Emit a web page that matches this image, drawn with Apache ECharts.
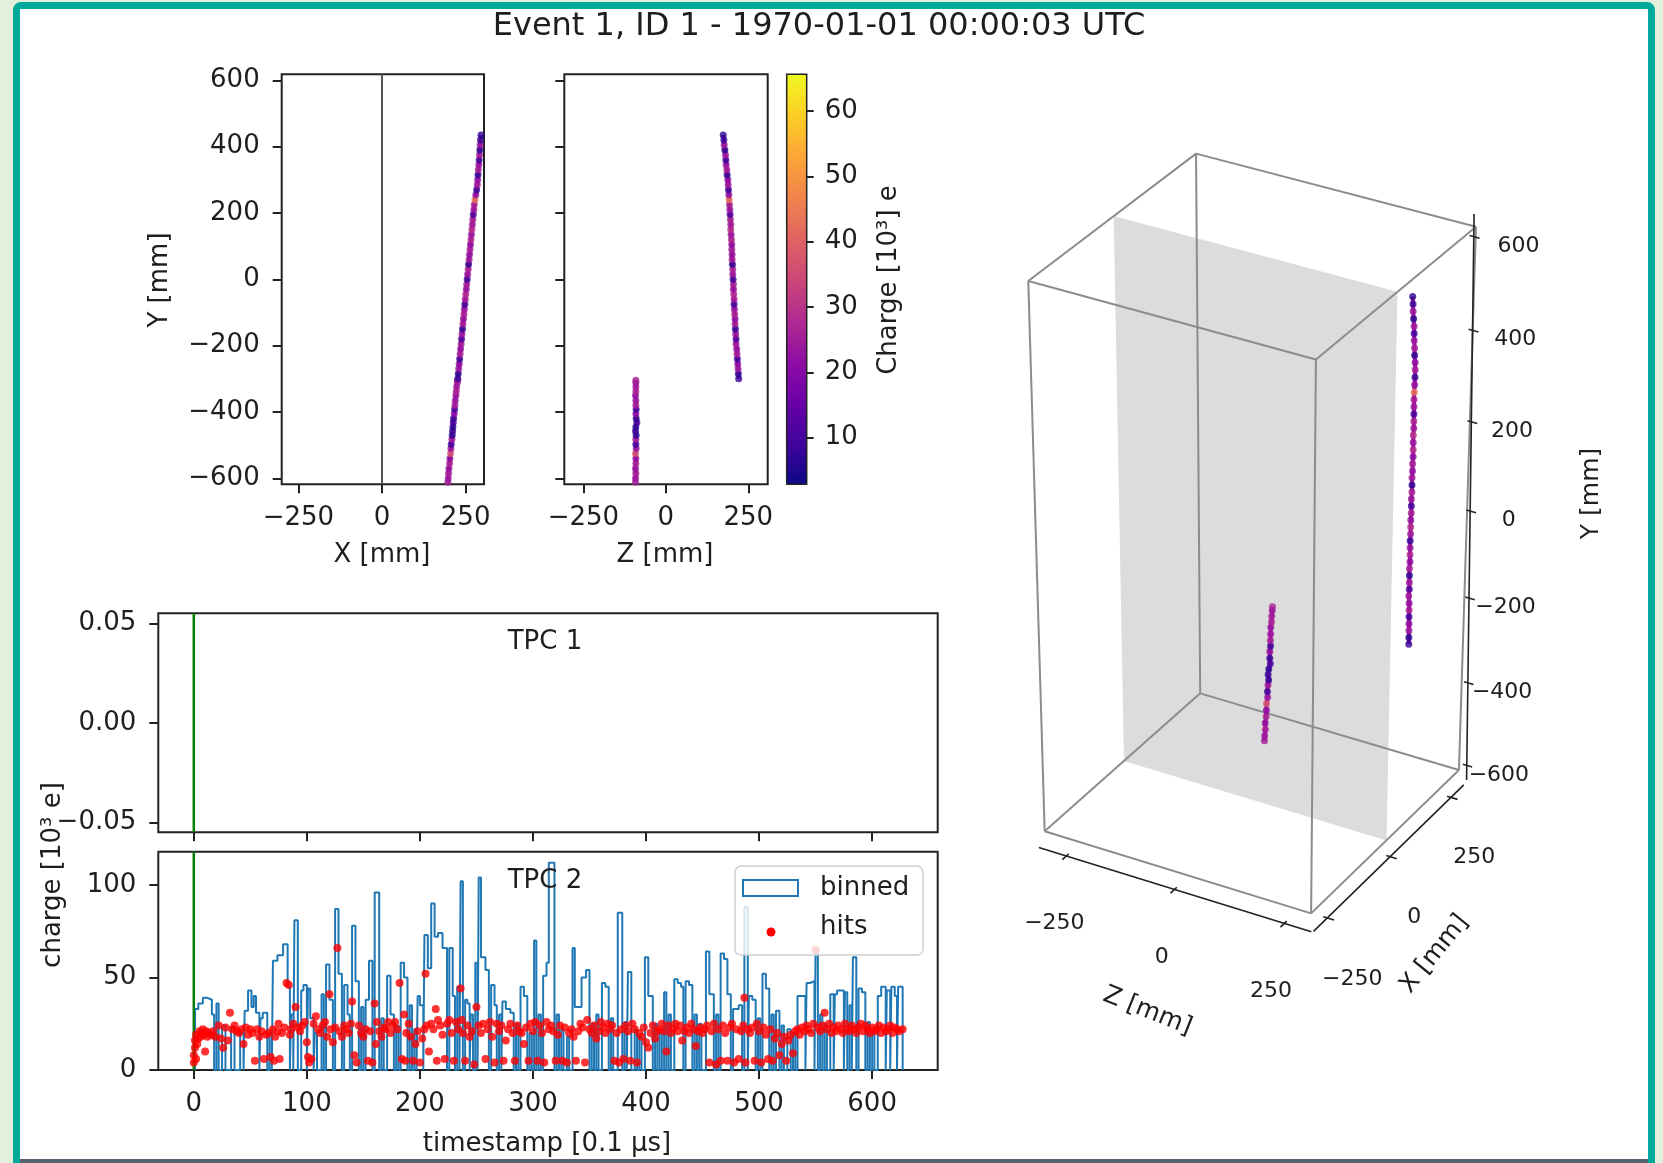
<!DOCTYPE html>
<html><head><meta charset="utf-8">
<script src="https://cdn.jsdelivr.net/npm/echarts@6.0.0/dist/echarts.min.js"></script>
<style>
html,body{margin:0;padding:0;background:#e3f0dc;width:1663px;height:1163px;overflow:hidden;}
#frame{position:absolute;left:13px;top:2px;width:1628px;height:1175px;border:7px solid #00a99a;border-radius:8px;background:#fff;}
#bottomline{position:absolute;left:20px;top:1159px;width:1628px;height:4px;background:#56636f;}
#chart{position:absolute;left:0;top:0;width:1663px;height:1163px;}
</style></head><body>
<div id="frame"></div><div id="bottomline"></div><div id="chart"></div>
<script>
// ---------------- data ----------------
const TITLE = 'Event 1, ID 1 - 1970-01-01 00:00:03 UTC';
const xyXTicks = [-250, 0, 250];
const yTicks = [-600, -400, -200, 0, 200, 400, 600];
const cbTicks = [10, 20, 30, 40, 50, 60];
const tpc1YTicks = [-0.05, 0, 0.05];
const tpc2YTicks = [0, 50, 100];
const timeTicks = [0, 100, 200, 300, 400, 500, 600];
const tick3dXZ = [-250, 0, 250];
const tick3dY = [-600, -400, -200, 0, 200, 400, 600];
const box3dX = [-298, 298];
const box3dY = [-617, 617];
const box3dZ = [-305, 305];
const cathodeX = 0;
const chargeRange = [2.87, 65.6];

// hits of the track: [X mm, Y mm, Z mm, charge 10^3 e]
const trackHits = [
 [197,-612,-92,25],[198,-600,-92,24],[199,-585,-91,26],[200,-570,-92,23],[202,-555,-91,27],[203,-540,-91,22],
 [205,-525,-92,38],[206,-510,-90,24],[207,-497,-91,9],[209,-482,-91,25],[210,-470,-90,7],[211,-458,-92,8],
 [212,-445,-91,6],[213,-432,-88,10],[214,-420,-90,7],[216,-405,-91,22],[217,-392,-90,9],[218,-380,-91,26],
 [219,-365,-91,24],[221,-350,-92,23],[222,-338,-91,27],[223,-325,-91,25],[225,-312,-91,24],[226,-304,-91,26],
 [226.6,-300,221,8],[228,-285,220,6],[229.4,-270,219,24],[230.8,-255,218,22],[232.2,-240,217,9],[233.6,-225,216,26],
 [235,-210,215,23],[236.5,-195,213,25],[237.9,-180,213,11],[239.3,-165,212,24],[240.7,-150,211,7],[242,-135,210,26],
 [243.5,-120,210,22],[245,-105,209,27],[246.3,-90,208,24],[247.7,-75,207,8],[249,-60,207,25],[250.5,-45,206,29],
 [252,-30,205,23],[253.3,-15,205,26],[254.8,0,204,9],[256,15,203,24],[257.6,30,203,27],[259,45,202,7],
 [260.4,60,201,25],[261.8,75,201,23],[263.2,90,200,26],[264.6,105,200,22],[266,120,199,28],[267.4,135,198,24],
 [268.8,150,197,30],[270.2,165,197,25],[271.6,180,196,27],[273,195,195,10],[274.5,210,194,24],[275.8,225,193,26],
 [278,240,192,44],[280.5,255,191,23],[283,270,190,8],[285,285,189,25],[286,300,188,22],[287,315,186,7],
 [288,330,185,26],[289.5,345,183,24],[290.5,360,182,9],[291.5,375,181,25],[292.5,390,179,6],[293.5,405,177,24],
 [294.5,420,176,8],[296,435,174,7]
];
const trackSegments = [[0, 23], [24, 73]];  // index ranges of the two track pieces

// binned charge histogram columns: [start, end, charge 10^3 e]
const binnedSteps = [
 [1,4,33],[4,8,36],[8,12,39],[12,16,38],[16,18,30],[20,22,36],[25,28,24],[33,36,23],[41,44,20],
 [45,48,32],[48,51,43],[51,53,34],[53,55,40],[55,58,31],[59,61,28],[61,65,31],[67,69,20],
 [70,74,59],[74,79,62],[79,83,68],[83,85,45],[86,88,30],[89,92,81],[95,97,43],[97,100,46],
 [101,103,44],[103,106,28],[107,109,20],[113,115,41],[117,120,57],[120,123,38],[125,128,87],[128,131,52],
 [133,136,46],[136,138,30],[140,143,78],[143,146,48],[148,150,34],[152,155,38],[155,158,59],[160,164,96],
 [166,168,28],[171,174,51],[174,177,30],[179,181,24],[183,186,58],[186,189,50],[191,193,35],[195,197,22],
 [198,200,40],[200,203,35],[204,207,73],[207,210,55],[210,213,90],[213,216,72],[216,220,74],[220,224,66],
 [226,229,66],[229,231,40],[233,235,45],[236,238,102],[240,242,38],[242,244,36],[245,247,30],[249,251,58],
 [252,254,104],[254,258,61],[258,261,54],[263,266,46],[266,268,35],[270,272,30],[273,276,37],[276,280,33],
 [280,283,31],[285,287,25],[289,292,45],[292,295,40],[297,299,20],[301,303,70],[305,307,30],[309,312,51],
 [312,314,58],[314,319,112],[321,323,30],[325,327,22],[330,332,18],[335,337,66],[337,343,34],[343,347,50],
 [347,350,54],[352,354,25],[356,358,30],[361,364,47],[364,367,45],[369,371,28],[375,379,85],[381,383,26],
 [384,387,53],[390,392,22],[394,396,18],[399,402,61],[402,406,40],[408,410,25],[412,414,20],[416,418,42],
 [420,422,30],[425,428,49],[428,431,47],[431,433,45],[435,438,48],[438,441,46],[443,445,30],[447,449,25],
 [453,456,64],[456,460,41],[462,464,30],[466,469,63],[469,472,60],[472,475,41],[477,479,33],[479,482,33],
 [482,485,35],[487,490,88],[491,494,40],[494,497,38],[499,501,28],[503,506,52],[506,509,44],[511,513,30],
 [515,518,32],[520,522,24],[525,528,22],[530,532,20],[534,537,40],[537,541,40],[542,545,47],[545,549,48],
 [550,552,65],[554,556,30],[558,560,25],[563,566,41],[567,569,41],[569,575,43],[576,578,42],[580,582,35],
 [583,586,61],[588,591,44],[591,594,42],[596,598,26],[600,602,20],[605,608,40],[608,612,45],[613,616,43],
 [617,620,45],[620,622,40],[623,627,45]
];

// hits: [timestamp 0.1us, charge 10^3 e]
const hitPoints = [
 [0,4],[0,8],[1,12],[1,16],[2,6],[2,19],[3,14],[4,17],[5,21],[6,18],[7,20],[8,22],[9,19],[10,10],[11,21],[12,18],[13,20],[15,19],[17,21],[19,18],
 [22,24],[24,17],[26,12],[28,23],[30,16],[32,31],[34,22],[36,24],[38,21],[40,20],[42,22],[44,14],[46,23],[48,19],[50,22],
 [52,20],[54,5],[56,22],[58,18],[60,21],[62,6],[64,19],[66,20],[68,7],[70,22],[71,5],[72,18],[74,21],[75,25],[76,6],[78,20],[80,23],[82,47],[84,46],
 [85,19],[86,22],[88,25],[90,34],[92,23],[94,21],[96,24],[98,26],[100,15],[101,7],[102,4],[104,6],[106,25],[108,29],[110,22],
 [112,20],[114,24],[116,26],[118,18],[120,41],[121,22],[123,15],[125,23],[127,66],[129,21],[131,18],[133,24],[135,22],[137,20],[139,25],[140,37],
 [142,8],[144,4],[146,24],[148,20],[150,18],[152,22],[154,5],[156,21],[158,4],[160,36],[161,14],[162,26],[164,21],[166,18],[168,23],[170,22],
 [172,26],[174,20],[176,24],[178,26],[180,22],[182,47],[184,6],[186,30],[187,5],[188,20],[190,25],[192,18],[194,5],[196,14],[198,21],[200,4],[202,17],[204,22],[205,52],[206,24],[208,10],[210,25],
 [212,22],[214,33],[215,5],[216,27],[218,24],[220,19],[222,6],[224,25],[226,27],[228,20],[230,5],[232,26],[234,22],[236,44],[237,27],[238,20],[240,5],[242,24],[244,18],[246,21],[248,3],
 [250,34],[252,24],[254,20],[256,25],[258,6],[260,22],[262,26],[264,18],[266,4],[268,25],[270,21],[272,24],[274,5],[276,16],[278,22],[280,25],[282,20],[284,5],[286,24],[288,21],
 [290,20],[292,14],[294,23],[296,5],[298,25],[300,21],[302,26],[304,5],[306,24],[308,20],[310,4],[312,26],[314,22],[316,24],[318,21],[320,5],[322,19],[324,24],[326,5],[328,23],[330,4],
 [332,20],[334,22],[336,18],[338,5],[340,21],[342,25],[344,23],[346,4],[348,27],[350,22],[352,20],[354,24],[356,17],[358,21],[360,26],[362,23],[364,20],[366,25],[368,22],[370,24],
 [372,5],[374,20],[376,4],[378,22],[380,6],[382,24],[384,21],[386,5],[388,25],[390,22],[392,4],[394,20],[396,18],[398,23],[400,15],[402,12],[404,20],[406,24],[408,17],[410,21],
 [412,22],[414,25],[416,21],[418,10],[420,24],[422,20],[424,22],[426,25],[428,21],[430,24],[432,16],[434,21],[436,23],[438,20],[440,25],[442,22],[444,13],[446,21],[448,23],[450,20],
 [452,22],[454,24],[456,4],[458,21],[460,25],[462,3],[464,22],[466,5],[468,24],[470,20],[472,5],[474,23],[476,25],[478,4],[480,22],[482,6],[484,21],[486,24],[487,39],[488,4],[490,22],
 [492,20],[494,23],[496,5],[498,25],[500,21],[502,4],[504,23],[506,19],[508,6],[510,22],[512,5],[514,17],[516,20],[518,8],[520,14],[522,18],[524,5],[526,16],[528,19],[530,9],
 [532,21],[534,22],[536,19],[538,23],[540,21],[542,24],[544,22],[546,20],[548,25],[550,65],[552,23],[554,21],[556,24],[558,31],[560,22],[562,25],[564,20],[566,23],[568,21],[570,24],[572,22],[574,20],[576,25],[578,22],[580,21],
 [582,24],[584,22],[586,20],[588,23],[590,25],[592,21],[594,24],[596,22],[598,20],[600,23],[602,21],[604,22],[606,24],[608,20],[610,23],[612,21],[614,22],[616,24],[618,20],[620,23],[622,22],[624,21],[627,22]
];

// ---------------- style / layout ----------------
const FONT = 'DejaVu Sans';
const TXT = '#1e1e1e';
const PLASMA = ['#0d0887','#41049d','#6a00a8','#8f0da4','#b12a90','#cc4778','#e16462','#f2844b','#fca636','#fcce25','#f0f921'];
const TRACK_CORE = '#9a179b';
const MINUS = v => (v < 0 ? '\u2212' + Math.abs(v) : String(v));

// 3D view (perspective-like projection onto the page)
const VIEW = {cx: 1254.2, cy: 537.6, ex: [78.9, -67.7], ey: [0.16, -273.4], ez: [136.6, 38.8], kx: -0.0192, ky: 0.0388, kz: 0.0088};
const hx = box3dX[1], hy = box3dY[1], hz = box3dZ[1];
function projN(b, c, a) {
  const s = 1 + VIEW.kz * a + VIEW.kx * b + VIEW.ky * c;
  return [VIEW.cx + s * (VIEW.ex[0] * b + VIEW.ey[0] * c + VIEW.ez[0] * a),
          VIEW.cy + s * (VIEW.ex[1] * b + VIEW.ey[1] * c + VIEW.ez[1] * a)];
}
function proj(X, Y, Z) { return projN(X / hx, Y / hy, Z / hz); }

// box edges
const edges = [];
[-1, 1].forEach(p => [-1, 1].forEach(q => {
  edges.push([projN(-1, p, q), projN(1, p, q)]);
  edges.push([projN(p, -1, q), projN(p, 1, q)]);
  edges.push([projN(p, q, -1), projN(p, q, 1)]);
}));
const cb = cathodeX / hx;
const planePts = [projN(cb, 1, -1), projN(cb, 1, 1), projN(cb, -1, 1), projN(cb, -1, -1)];

// 3d axes lines and ticks
const yAxTop = {b: 0.97, a: 1.0, c: 1.05}, yAxBot = {b: 1.0, a: 1.06, c: -1.03};
const axes3d = [
  [projN(-1.03, -1.06, -1.03), projN(-1.03, -1.06, 1.02)],
  [projN(-1.02, -1.06, 1.03), projN(1.02, -1.06, 1.03)],
  [projN(yAxBot.b, yAxBot.c, yAxBot.a), projN(yAxTop.b, yAxTop.c, yAxTop.a)]
];
tick3dXZ.forEach(v => {
  axes3d.push([projN(-1.0, -1.06, v / hz), projN(-1.08, -1.06, v / hz)]);
  axes3d.push([projN(v / hx, -1.06, 1.0), projN(v / hx, -1.06, 1.08)]);
});
tick3dY.forEach(v => {
  const c = v / hy, t = (c - yAxBot.c) / (yAxTop.c - yAxBot.c);
  const b = yAxBot.b + t * (yAxTop.b - yAxBot.b), a = yAxBot.a + t * (yAxTop.a - yAxBot.a);
  axes3d.push([projN(b, c, a - 0.03), projN(b, c, a + 0.04)]);
});

// 3d labels
const labels3d = [];
tick3dXZ.forEach(v => labels3d.push({p: projN(-1.2, -1.28, v / hz), text: MINUS(v), size: 22, rot: 0}));
tick3dXZ.forEach(v => labels3d.push({p: projN(v / hx, -1.27, 1.22), text: MINUS(v), size: 22, rot: 0}));
tick3dY.forEach(v => labels3d.push({p: projN(1.0, v / hy, 1.3), text: MINUS(v), size: 22, rot: 0}));
labels3d.push({p: projN(-1.39, -1.44, 0), text: 'Z [mm]', size: 25, rot: -21.8 * Math.PI / 180});
labels3d.push({p: projN(0, -1.394, 1.38), text: 'X [mm]', size: 25, rot: 51 * Math.PI / 180});
labels3d.push({p: projN(1.0, 0.18, 1.88), text: 'Y [mm]', size: 25, rot: Math.PI / 2});

// histogram step outline
function stepData(cols) {
  const pts = []; let last = null;
  cols.forEach(c => {
    if (last === null) pts.push([c[0], 0]);
    else if (c[0] > last) pts.push([last, 0]);
    pts.push([c[0], c[2]]);
    last = c[1];
  });
  pts.push([last, 0]);
  return pts;
}

// axes helpers
function mkAxis(gridIndex, min, max, ticks, o) {
  o = o || {};
  return {
    type: 'value', gridIndex, min, max, position: o.position,
    axisLine: {show: false, onZero: false},
    axisTick: {show: true, inside: false, length: o.tickLen || 9, lineStyle: {color: '#222', width: 2}, customValues: ticks},
    axisLabel: o.labels === false ? {show: false} :
      {show: true, customValues: ticks, formatter: o.fmt || MINUS, fontFamily: FONT, fontSize: 26, color: TXT, margin: o.margin || 20},
    splitLine: {show: false}
  };
}
const gridBox = {show: true, borderColor: '#222', borderWidth: 2, backgroundColor: 'transparent'};

function gtext(x, y, text, size, rot, align) {
  return {type: 'text', x, y, rotation: rot || 0, z: 100,
    style: {text, fontFamily: FONT, fontSize: size, fill: TXT, align: align || 'center', verticalAlign: 'middle'}};
}
function coreLine(xi, yi, mapFn) {
  return trackSegments.map(sg => ({
    type: 'line', xAxisIndex: xi, yAxisIndex: yi, showSymbol: false, silent: true, z: 4,
    lineStyle: {color: TRACK_CORE, width: 4}, data: trackHits.slice(sg[0], sg[1] + 1).map(mapFn)
  }));
}

const series = [
  {type: 'scatter', xAxisIndex: 0, yAxisIndex: 0, symbolSize: 7, z: 5, data: trackHits.map(h => [h[0], h[1], h[3]])},
  {type: 'scatter', xAxisIndex: 1, yAxisIndex: 1, symbolSize: 7, z: 5, data: trackHits.map(h => [h[2], h[1], h[3]])},
  {type: 'scatter', xAxisIndex: 5, yAxisIndex: 5, symbolSize: 7, z: 5, data: trackHits.map(h => proj(h[0], h[1], h[2]).concat([h[3]]))},
  {type: 'line', xAxisIndex: 0, yAxisIndex: 0, showSymbol: false, silent: true, z: 3,
   lineStyle: {color: '#555', width: 2}, data: [[cathodeX, -618], [cathodeX, 618]]},
  {type: 'line', xAxisIndex: 3, yAxisIndex: 3, showSymbol: false, silent: true, z: 3,
   lineStyle: {color: '#0a7d0a', width: 2.5}, data: [[0, -0.055], [0, 0.055]]},
  {type: 'line', name: 'binned', xAxisIndex: 4, yAxisIndex: 4, step: 'end', showSymbol: false, z: 2,
   lineStyle: {color: '#1f77b4', width: 2}, data: stepData(binnedSteps)},
  {type: 'line', xAxisIndex: 4, yAxisIndex: 4, showSymbol: false, silent: true, z: 3,
   lineStyle: {color: '#0a7d0a', width: 2.5}, data: [[0, 0], [0, 118]]},
  {type: 'scatter', name: 'hits', xAxisIndex: 4, yAxisIndex: 4, symbolSize: 8, z: 4,
   itemStyle: {color: '#ff0000'}, data: hitPoints},
  {type: 'custom', xAxisIndex: 5, yAxisIndex: 5, z: 1, silent: true,
   data: [planePts.flat()],
   renderItem: (params, api) => {
     const pts = [];
     for (let k = 0; k < 4; k++) pts.push(api.coord([api.value(2 * k), api.value(2 * k + 1)]));
     return {type: 'polygon', shape: {points: pts}, style: {fill: '#dcdcdc'}};
   }},
  {type: 'lines', coordinateSystem: 'cartesian2d', xAxisIndex: 5, yAxisIndex: 5, polyline: false, silent: true, z: 2,
   lineStyle: {color: '#8c8c8c', width: 2, opacity: 1}, data: edges.map(e => ({coords: e}))},
  {type: 'lines', coordinateSystem: 'cartesian2d', xAxisIndex: 5, yAxisIndex: 5, polyline: false, silent: true, z: 3,
   lineStyle: {color: '#222', width: 1.6, opacity: 1}, data: axes3d.map(e => ({coords: e}))},
  {type: 'custom', xAxisIndex: 5, yAxisIndex: 5, z: 6, silent: true,
   data: labels3d.map(l => l.p),
   renderItem: (params, api) => {
     const L = labels3d[params.dataIndex];
     const p = api.coord([api.value(0), api.value(1)]);
     return {type: 'text', x: p[0], y: p[1], rotation: L.rot,
       style: {text: L.text, fontFamily: FONT, fontSize: L.size, fill: TXT, align: 'center', verticalAlign: 'middle'}};
   }}
].concat(
  coreLine(0, 0, h => [h[0], h[1]]),
  coreLine(1, 1, h => [h[2], h[1]]),
  coreLine(5, 5, h => proj(h[0], h[1], h[2]))
);

const option = {
  animation: false,
  backgroundColor: 'transparent',
  grid: [
    Object.assign({left: 281.7, top: 74.3, width: 202.3, height: 410}, gridBox),
    Object.assign({left: 564.3, top: 74.3, width: 203.4, height: 410}, gridBox),
    {left: 786.7, top: 74.3, width: 20, height: 410, show: true, borderColor: '#222', borderWidth: 1.5, backgroundColor: 'transparent', z: 10},
    Object.assign({left: 158.3, top: 613.3, width: 779.4, height: 219}, gridBox),
    Object.assign({left: 158.3, top: 851.7, width: 779.4, height: 218.3}, gridBox),
    {left: 0, top: 0, width: 1663, height: 1163}
  ],
  xAxis: [
    mkAxis(0, -300, 305, xyXTicks, {margin: 21}),
    mkAxis(1, -308, 309, xyXTicks, {margin: 21}),
    {type: 'value', gridIndex: 2, min: 0, max: 1, show: false},
    mkAxis(3, -31.4, 658, timeTicks, {labels: false}),
    mkAxis(4, -31.4, 658, timeTicks, {margin: 21}),
    {type: 'value', gridIndex: 5, min: 0, max: 1663, show: false}
  ],
  yAxis: [
    mkAxis(0, -618, 618, yTicks, {margin: 22}),
    mkAxis(1, -618, 618, yTicks, {labels: false}),
    mkAxis(2, chargeRange[0], chargeRange[1], cbTicks, {position: 'right', margin: 18, tickLen: 7}),
    mkAxis(3, -0.055, 0.055, tpc1YTicks, {margin: 22, fmt: v => (v < 0 ? '\u2212' : '') + Math.abs(v).toFixed(2)}),
    mkAxis(4, 0, 118, tpc2YTicks, {margin: 22}),
    {type: 'value', gridIndex: 5, min: 0, max: 1163, inverse: true, show: false}
  ],
  visualMap: {
    type: 'continuous', min: chargeRange[0], max: chargeRange[1], dimension: 2, seriesIndex: [0, 1, 2],
    inRange: {color: PLASMA}, orient: 'vertical', left: 786.7, top: 74.3, itemWidth: 20, itemHeight: 410,
    calculable: false, padding: 0, hoverLink: false, showLabel: false, z: 4
  },
  series,
  graphic: [
    gtext(819, 27, TITLE, 32),
    gtext(160, 280, 'Y [mm]', 26, Math.PI / 2),
    gtext(382, 555, 'X [mm]', 26),
    gtext(665, 555, 'Z [mm]', 26),
    gtext(889, 280, 'Charge [10\u00b3] e', 26, Math.PI / 2),
    gtext(53, 875, 'charge [10\u00b3 e]', 26, Math.PI / 2),
    gtext(547, 1144, 'timestamp [0.1 \u03bcs]', 26),
    gtext(545, 642, 'TPC 1', 26),
    gtext(545, 881, 'TPC 2', 26),
    {type: 'rect', z: 99, shape: {x: 735, y: 866, width: 188, height: 89, r: 6},
     style: {fill: 'rgba(255,255,255,0.8)', stroke: '#d0d0d0', lineWidth: 1.5}},
    {type: 'rect', z: 100, shape: {x: 743, y: 880, width: 55, height: 16},
     style: {fill: '#ffffff', stroke: '#1f77b4', lineWidth: 2}},
    {type: 'circle', z: 100, shape: {cx: 771, cy: 932, r: 4.5}, style: {fill: '#ff0000'}},
    gtext(820, 888, 'binned', 26, 0, 'left'),
    gtext(820, 927, 'hits', 26, 0, 'left')
  ]
};

const chart = echarts.init(document.getElementById('chart'), null, {renderer: 'canvas', width: 1663, height: 1163});
chart.setOption(option);
</script></body></html>
